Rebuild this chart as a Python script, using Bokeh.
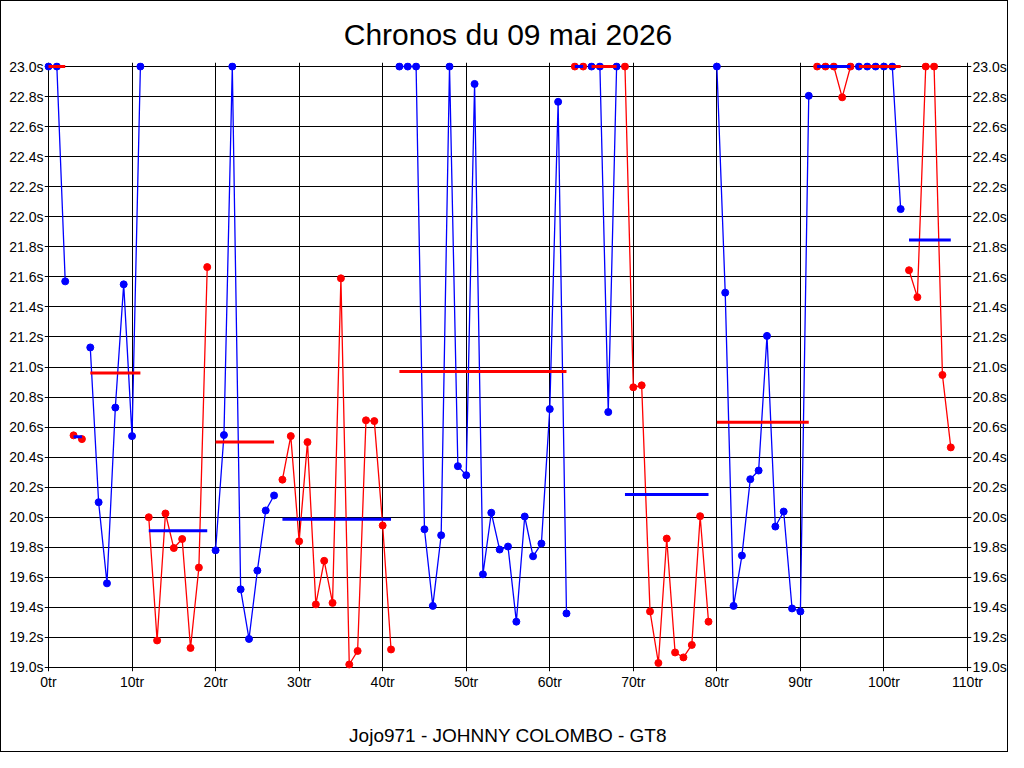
from bokeh.plotting import figure
from bokeh.models import Range1d, FixedTicker, PrintfTickFormatter, LinearAxis, Title
from bokeh.embed import file_html
from bokeh.resources import INLINE

title_text = "Chronos du 09 mai 2026"
footer_text = "Jojo971 - JOHNNY COLOMBO - GT8"

# lap times (s) for laps 0..108, values above 23.0 s shown capped at 23.0
lap_times = [
    23.0, 23.0, 21.57, 20.545, 20.52, 21.13, 20.10, 19.56, 20.73, 21.55,
    20.54, 23.0, 20.0, 19.18, 20.025, 19.795, 19.855, 19.13, 19.665, 21.665,
    19.78, 20.547, 23.0, 19.52, 19.19, 19.645, 20.045, 20.145, 20.25, 20.54,
    19.84, 20.50, 19.42, 19.71, 19.43, 21.59, 19.02, 19.11, 20.645, 20.64,
    19.945, 19.12, 23.0, 23.0, 23.0, 19.92, 19.41, 19.88, 23.0, 20.34,
    20.28, 22.884, 19.62, 20.03, 19.785, 19.805, 19.305, 20.005, 19.74, 19.825,
    20.72, 22.765, 19.36, 23.0, 23.0, 23.0, 23.0, 20.70, 23.0, 23.0,
    20.865, 20.878, 19.373, 19.03, 19.858, 19.10, 19.067, 19.15, 20.007, 19.305,
    23.0, 21.495, 19.41, 19.745, 20.253, 20.311, 21.207, 19.938, 20.038, 19.393,
    19.373, 22.805, 23.0, 23.0, 23.0, 22.795, 23.0, 23.0, 23.0, 23.0,
    23.0, 23.0, 22.051, 21.644, 21.465, 23.0, 23.0, 20.947, 20.465,
]

# stints (relays): first lap, last lap, average
stint_first = [0, 3, 5, 12, 20, 28, 42, 63, 65, 69, 80, 92, 97, 103]
stint_last = [2, 4, 11, 19, 27, 41, 62, 64, 68, 79, 91, 96, 102, 108]
stint_avg = [23.0, 20.535, 20.96, 19.91, 20.50, 19.987, 20.97, 23.0, 23.0,
             20.151, 20.633, 23.0, 23.0, 21.845]
driver_colors = ["#0000FF", "#FF0000"]

x_ticks = [0, 10, 20, 30, 40, 50, 60, 70, 80, 90, 100, 110]
y_ticks = [19.0, 19.2, 19.4, 19.6, 19.8, 20.0, 20.2, 20.4, 20.6, 20.8, 21.0,
           21.2, 21.4, 21.6, 21.8, 22.0, 22.2, 22.4, 22.6, 22.8, 23.0]

FONT = "Liberation Sans"

W, H = 1008, 752
B_LEFT, B_RIGHT, B_TOP, B_BOTTOM = 43, 36, 61, 82
frame_w = W - B_LEFT - B_RIGHT - 2
frame_h = H - B_TOP - B_BOTTOM - 2
PAD = 4  # px of margin so markers on the outer grid lines are not clipped
xspan = x_ticks[-1] - x_ticks[0]
yspan = y_ticks[-1] - y_ticks[0]
xpad = PAD * xspan / (frame_w - 2 * PAD)
ypad = PAD * yspan / (frame_h - 2 * PAD)

p = figure(width=W, height=H,
           x_range=Range1d(x_ticks[0] - xpad, x_ticks[-1] + xpad),
           y_range=Range1d(y_ticks[0] - ypad, y_ticks[-1] + ypad),
           output_backend="svg", toolbar_location=None,
           min_border_left=B_LEFT, min_border_right=B_RIGHT,
           min_border_top=B_TOP, min_border_bottom=B_BOTTOM,
           background_fill_color="white", border_fill_color="white",
           outline_line_color=None)
p.styles = {"border": "1px solid black"}

p.title = Title(text=title_text, align="center", text_font=FONT,
                text_font_size="30px", text_font_style="normal",
                text_color="black", standoff=24)

# grids
p.xgrid.ticker = FixedTicker(ticks=x_ticks)
p.ygrid.ticker = FixedTicker(ticks=y_ticks)
for g in (p.xgrid, p.ygrid):
    g.grid_line_color = "black"
    g.grid_line_width = 1
    g.grid_line_alpha = 1.0

# axes
p.xaxis.ticker = FixedTicker(ticks=x_ticks)
p.xaxis.formatter = PrintfTickFormatter(format="%dtr")
p.xaxis.axis_label = footer_text
p.xaxis.axis_label_text_font = FONT
p.xaxis.axis_label_text_font_size = "19px"
p.xaxis.axis_label_text_font_style = "normal"
p.xaxis.axis_label_text_color = "black"
p.xaxis.axis_label_standoff = 32
p.yaxis.ticker = FixedTicker(ticks=y_ticks)
p.yaxis.formatter = PrintfTickFormatter(format="%.1fs")
right_axis = LinearAxis(ticker=FixedTicker(ticks=y_ticks),
                        formatter=PrintfTickFormatter(format="%.1fs"))
p.add_layout(right_axis, "right")

for ax in p.axis:
    ax.axis_line_color = None
    ax.major_tick_line_color = None
    ax.minor_tick_line_color = None
    ax.major_tick_in = 0
    ax.major_tick_out = 0
    ax.major_label_text_font = FONT
    ax.major_label_text_font_size = "14px"
    ax.major_label_text_color = "black"
p.xaxis.major_label_standoff = 2
p.yaxis.major_label_standoff = 1
right_axis.major_label_standoff = 1

# stints
for i, (first, last, avg) in enumerate(zip(stint_first, stint_last, stint_avg)):
    col = driver_colors[i % 2]
    avg_col = driver_colors[(i + 1) % 2]
    laps = list(range(first, last + 1))
    times = lap_times[first:last + 1]
    p.line(laps, times, line_color=col, line_width=1.3)
    p.scatter(laps, times, size=7, fill_color=col, line_color=col)
    p.line([first, last], [avg, avg], line_color=avg_col, line_width=3)

open("out.html", "w").write(file_html(p, INLINE))
